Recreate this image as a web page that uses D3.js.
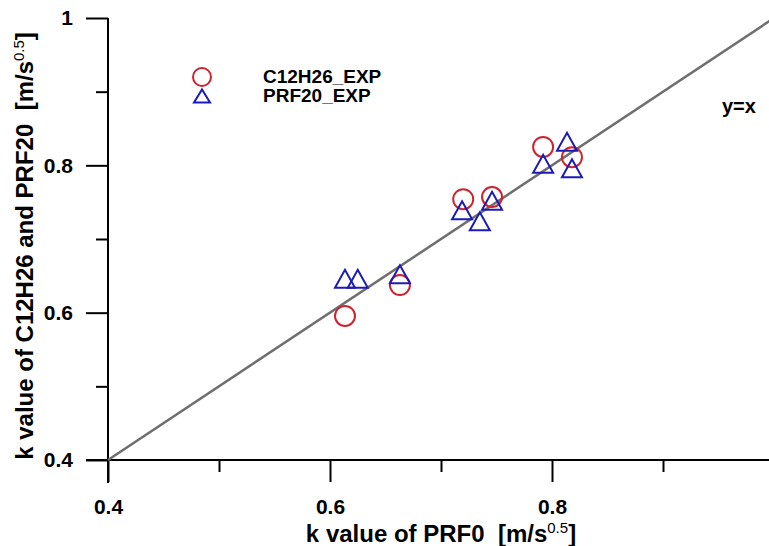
<!DOCTYPE html>
<html>
<head>
<meta charset="utf-8">
<script src="https://cdn.jsdelivr.net/npm/d3@7"></script>
<style>
    body { margin: 0; background: #fff; }
    text { font-family: 'Liberation Sans', Arial, sans-serif; font-weight: bold; }
</style>
</head>
<body>
<div id="chart"></div>
<script>
// C12H26 experiments, k value vs PRF0
const c12_x = [0.6135, 0.663, 0.720, 0.746, 0.792, 0.818];
const c12_y = [0.5955, 0.6375, 0.754, 0.757, 0.825, 0.811];

// PRF20 experiments
const prf_x = [0.6135, 0.625, 0.663, 0.719, 0.735, 0.746, 0.792, 0.8135, 0.818];
const prf_y = [0.646, 0.646, 0.652, 0.739, 0.724, 0.752, 0.802, 0.832, 0.796];

const major_ticks = [0.4, 0.6, 0.8, 1];
const minor_ticks = [0.5, 0.7, 0.9];
const legend_labels = ['C12H26_EXP', 'PRF20_EXP'];

const width = 769, height = 546;

const svg = d3.select('#chart')
    .append('svg')
    .attr('width', width)
    .attr('height', height);

const x = d3.scaleLinear().domain([0.4, 1]).range([108, 774]);
const y = d3.scaleLinear().domain([0.4, 1]).range([460, 18]);

const fmt = d => d === 1 ? '1' : d.toFixed(1);

// axes
const yMajor = svg.append('g')
    .attr('transform', `translate(${x(0.4)},0)`)
    .call(d3.axisLeft(y).tickValues(major_ticks).tickSize(22).tickPadding(13).tickFormat(fmt));
const yMinor = svg.append('g')
    .attr('transform', `translate(${x(0.4)},0)`)
    .call(d3.axisLeft(y).tickValues(minor_ticks).tickSize(12).tickFormat(''));
const xMajor = svg.append('g')
    .attr('transform', `translate(0,${y(0.4)})`)
    .call(d3.axisBottom(x).tickValues(major_ticks).tickSize(22).tickPadding(17).tickFormat(fmt));
const xMinor = svg.append('g')
    .attr('transform', `translate(0,${y(0.4)})`)
    .call(d3.axisBottom(x).tickValues(minor_ticks).tickSize(12).tickFormat(''));

[yMajor, yMinor, xMajor, xMinor].forEach(g => {
    g.select('.domain').remove();
    g.selectAll('line').attr('stroke', '#000').attr('stroke-width', 2);
    g.selectAll('text').attr('fill', '#000').style('font-size', '21px').style('font-weight', 'bold');
});

// axis lines (extended past the origin like the original)
svg.append('line')
    .attr('x1', x(0.4)).attr('x2', x(0.4))
    .attr('y1', y(1)).attr('y2', y(0.4) + 23)
    .attr('stroke', '#000').attr('stroke-width', 2);
svg.append('line')
    .attr('x1', x(0.4) - 22).attr('x2', width)
    .attr('y1', y(0.4)).attr('y2', y(0.4))
    .attr('stroke', '#000').attr('stroke-width', 2);

// y = x line
svg.append('line')
    .attr('x1', x(0.4)).attr('y1', y(0.4))
    .attr('x2', x(1)).attr('y2', y(1))
    .attr('stroke', '#6e6e6e').attr('stroke-width', 2.5);

svg.append('text')
    .attr('x', 722).attr('y', 113)
    .style('font-size', '20px')
    .text('y=x');

// markers
const red = '#cc2430', blue = '#1c1cb4';
const tri = (w, h) => `M${-w / 2},${h / 2}L${w / 2},${h / 2}L0,${-h / 2}Z`;

svg.append('g').selectAll('circle')
    .data(c12_x.map((d, i) => [d, c12_y[i]]))
    .enter()
    .append('circle')
    .attr('cx', d => x(d[0]))
    .attr('cy', d => y(d[1]))
    .attr('r', 10)
    .attr('fill', 'none')
    .attr('stroke', red)
    .attr('stroke-width', 2);

svg.append('g').selectAll('path')
    .data(prf_x.map((d, i) => [d, prf_y[i]]))
    .enter()
    .append('path')
    .attr('d', tri(20, 18))
    .attr('transform', d => `translate(${x(d[0])},${y(d[1])})`)
    .attr('fill', 'none')
    .attr('stroke', blue)
    .attr('stroke-width', 2);

// legend
const legend = svg.append('g');
legend.append('circle')
    .attr('cx', 202).attr('cy', 77).attr('r', 9)
    .attr('fill', 'none').attr('stroke', red).attr('stroke-width', 2);
legend.append('path')
    .attr('d', tri(16, 13))
    .attr('transform', 'translate(202,96)')
    .attr('fill', 'none').attr('stroke', blue).attr('stroke-width', 2);
legend.selectAll('text')
    .data(legend_labels)
    .enter()
    .append('text')
    .attr('x', 263)
    .attr('y', (d, i) => 83 + i * 19)
    .style('font-size', '19px')
    .text(d => d);

// axis titles
const xt = svg.append('text')
    .attr('x', 441).attr('y', 542)
    .attr('text-anchor', 'middle')
    .style('font-size', '24px');
xt.append('tspan').text('k value of PRF0\u00a0\u00a0[m/s');
xt.append('tspan').attr('dy', -9).style('font-size', '15px').style('font-weight', 'normal').text('0.5');
xt.append('tspan').attr('dy', 9).text(']');

const yt = svg.append('text')
    .attr('transform', 'translate(33,246) rotate(-90)')
    .attr('text-anchor', 'middle')
    .style('font-size', '24px');
yt.append('tspan').text('k value of C12H26 and PRF20\u00a0\u00a0[m/s');
yt.append('tspan').attr('dy', -9).style('font-size', '15px').style('font-weight', 'normal').text('0.5');
yt.append('tspan').attr('dy', 9).text(']');
</script>
</body>
</html>
